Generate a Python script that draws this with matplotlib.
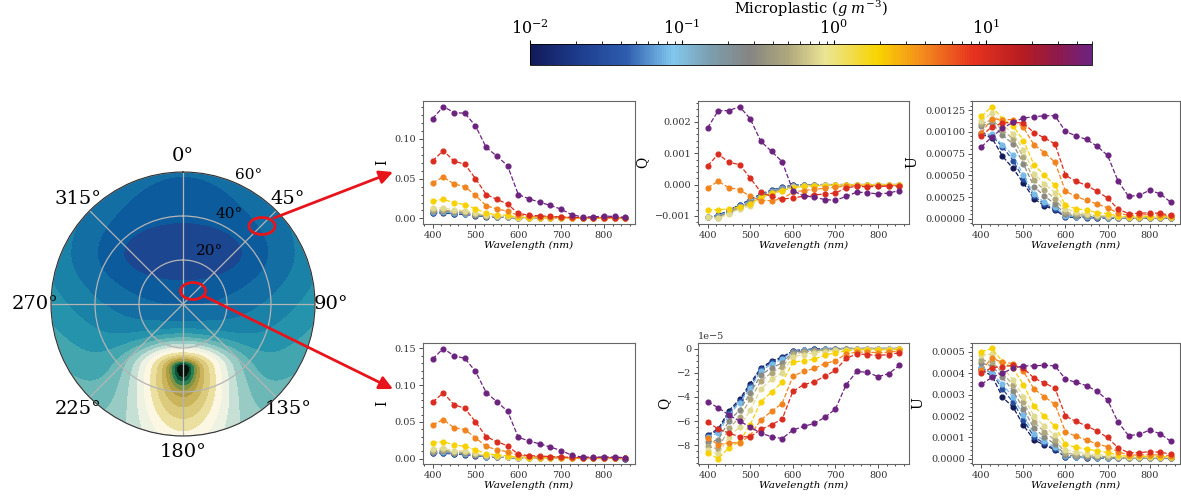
import numpy as np
import matplotlib
matplotlib.use('Agg')
import matplotlib.pyplot as plt
from matplotlib.colors import LinearSegmentedColormap, LogNorm
from matplotlib.cm import ScalarMappable
from matplotlib.patches import Ellipse

plt.rcParams['font.family'] = ['DejaVu Serif']
plt.rcParams['mathtext.fontset'] = 'dejavuserif'

# ---- data -------------------------------------------------------------
wavelength = list(range(400, 851, 25))
# microplastic concentration of each curve (g m-3), low -> high
concentration = [0.01, 0.03, 0.08, 0.3, 0.5, 0.8, 2, 4, 10, 50]

# I, upper viewing point (x1e-3)
I_TOP = [
    [6.6, 7.0, 5.7, 5.2, 3.7, 2.3, 1.7, 1.4, 0.6, 0.4, 0.4, 0.3, 0.3, 0.2, 0.2, 0.2, 0.2, 0.2, 0.1],
    [7.2, 7.6, 6.2, 5.6, 4.0, 2.5, 1.8, 1.5, 0.6, 0.5, 0.4, 0.3, 0.3, 0.2, 0.2, 0.2, 0.2, 0.2, 0.1],
    [7.8, 8.3, 6.8, 6.2, 4.4, 2.7, 2.0, 1.6, 0.7, 0.5, 0.4, 0.4, 0.3, 0.2, 0.2, 0.2, 0.2, 0.2, 0.2],
    [8.8, 9.4, 7.7, 7.0, 4.9, 3.1, 2.3, 1.9, 0.8, 0.6, 0.5, 0.4, 0.4, 0.3, 0.2, 0.2, 0.2, 0.2, 0.2],
    [10.0, 10.8, 8.8, 8.0, 5.6, 3.5, 2.6, 2.1, 0.9, 0.7, 0.6, 0.5, 0.4, 0.3, 0.3, 0.3, 0.3, 0.3, 0.2],
    [12.5, 13.5, 10.6, 9.8, 6.8, 4.1, 3.0, 2.5, 1.0, 0.8, 0.7, 0.6, 0.5, 0.4, 0.3, 0.3, 0.3, 0.3, 0.3],
    [21.7, 24.0, 19.6, 17.5, 12.0, 6.7, 4.6, 4.0, 1.5, 1.2, 1.0, 0.9, 0.8, 0.6, 0.5, 0.5, 0.5, 0.5, 0.4],
    [44.6, 52.0, 43.0, 40.0, 28.8, 16.0, 12.0, 9.0, 4.0, 2.8, 2.4, 2.0, 1.7, 1.1, 0.9, 0.9, 1.0, 0.9, 0.7],
    [72.0, 85.0, 71.7, 68.0, 50.0, 30.0, 24.0, 18.0, 6.3, 4.2, 3.3, 2.5, 2.0, 1.3, 1.1, 1.1, 1.2, 1.1, 0.9],
    [125.0, 140.0, 132.5, 131.7, 116.0, 89.0, 78.0, 66.0, 30.0, 24.6, 20.4, 16.3, 11.7, 4.6, 2.0, 2.0, 3.0, 2.5, 1.3],
]
# I, lower viewing point (x1e-3)
I_BOTTOM = [
    [7.2, 7.5, 6.0, 5.4, 3.9, 2.4, 1.8, 1.5, 0.6, 0.4, 0.4, 0.3, 0.3, 0.2, 0.2, 0.2, 0.2, 0.2, 0.1],
    [7.8, 8.1, 6.5, 5.9, 4.2, 2.6, 1.9, 1.6, 0.6, 0.5, 0.4, 0.3, 0.3, 0.2, 0.2, 0.2, 0.2, 0.2, 0.1],
    [8.4, 8.8, 7.1, 6.5, 4.6, 2.8, 2.1, 1.7, 0.7, 0.5, 0.4, 0.4, 0.3, 0.2, 0.2, 0.2, 0.2, 0.2, 0.2],
    [9.5, 10.0, 8.0, 7.3, 5.1, 3.2, 2.4, 2.0, 0.8, 0.6, 0.5, 0.4, 0.4, 0.3, 0.2, 0.2, 0.2, 0.2, 0.2],
    [11.0, 11.5, 9.2, 8.4, 5.8, 3.6, 2.7, 2.2, 0.9, 0.7, 0.6, 0.5, 0.4, 0.3, 0.3, 0.3, 0.3, 0.3, 0.2],
    [13.5, 14.0, 11.0, 10.0, 7.0, 4.3, 3.1, 2.6, 1.1, 0.9, 0.7, 0.6, 0.5, 0.4, 0.3, 0.3, 0.3, 0.3, 0.3],
    [21.8, 23.0, 18.7, 16.5, 12.0, 6.7, 4.8, 4.0, 1.6, 1.3, 1.1, 1.0, 0.9, 0.6, 0.5, 0.5, 0.5, 0.5, 0.4],
    [46.0, 53.0, 42.0, 39.6, 28.5, 16.5, 12.0, 9.3, 4.5, 3.0, 2.6, 2.2, 1.8, 1.2, 1.0, 1.0, 1.1, 1.0, 0.8],
    [77.0, 89.5, 73.4, 68.5, 50.0, 30.0, 23.0, 17.4, 5.8, 4.0, 3.5, 2.7, 2.2, 1.5, 1.3, 1.3, 1.4, 1.3, 1.0],
    [135.7, 150.0, 140.0, 136.6, 119.0, 90.0, 77.5, 64.5, 29.0, 24.0, 20.0, 15.6, 11.0, 4.5, 2.0, 2.0, 2.2, 2.0, 1.3],
]
# Q, upper viewing point (x1e-4)
Q_TOP = [
    [-10.4, -9.8, -8.2, -6.5, -4.8, -3.0, -1.8, -0.9, -0.2, -0.1, 0, 0, 0, 0, 0, 0, 0, 0, 0],
    [-10.4, -9.9, -8.3, -6.6, -5.0, -3.1, -1.9, -1.0, -0.2, -0.1, 0, 0, 0, 0, 0, 0, 0, 0, 0],
    [-10.4, -10.0, -8.5, -6.8, -5.2, -3.3, -2.0, -1.1, -0.3, -0.1, -0.1, 0, 0, 0, 0, 0, 0, 0, 0],
    [-10.5, -10.3, -8.7, -7.1, -5.7, -3.6, -2.3, -1.3, -0.4, -0.2, -0.1, -0.1, 0, 0, 0, 0, 0, 0, 0],
    [-10.5, -10.6, -9.0, -7.4, -6.2, -4.0, -2.6, -1.6, -0.6, -0.3, -0.2, -0.1, -0.1, 0, 0, 0, 0, 0, 0],
    [-10.5, -10.8, -9.3, -7.8, -6.8, -4.5, -3.0, -2.0, -0.9, -0.5, -0.3, -0.2, -0.1, -0.1, 0, 0, 0, 0, 0],
    [-8.0, -8.0, -7.8, -7.2, -6.2, -4.0, -2.8, -1.9, -1.0, -0.6, -0.4, -0.3, -0.2, -0.1, -0.1, -0.1, -0.1, -0.1, -0.1],
    [-1.0, 1.0, -1.0, -1.6, -3.8, -5.1, -5.1, -4.6, -2.4, -1.9, -1.5, -1.2, -0.8, -0.5, -0.3, -0.3, -0.3, -0.3, -0.3],
    [6.0, 9.7, 7.1, 6.4, 2.1, -2.4, -3.8, -4.6, -4.3, -3.7, -3.3, -3.0, -2.7, -1.0, -0.6, -0.7, -0.6, -0.5, -0.4],
    [18.1, 23.6, 23.6, 24.9, 21.0, 13.8, 10.6, 7.3, -1.9, -3.6, -4.0, -4.8, -5.0, -3.8, -2.4, -2.6, -3.0, -2.7, -1.9],
]
# Q, lower viewing point (x1e-5)
Q_BOTTOM = [
    [-7.15, -6.65, -5.15, -4.2, -2.9, -1.6, -1.05, -0.7, -0.2, -0.1, -0.05, 0, 0, 0, 0, 0, 0, 0, 0],
    [-7.2, -6.8, -5.3, -4.35, -3.1, -1.7, -1.15, -0.8, -0.2, -0.1, -0.05, 0, 0, 0, 0, 0, 0, 0, 0],
    [-7.3, -7.0, -5.5, -4.5, -3.3, -1.85, -1.3, -0.9, -0.25, -0.15, -0.1, -0.05, 0, 0, 0, 0, 0, 0, 0],
    [-7.75, -7.55, -6.0, -5.1, -3.7, -2.2, -1.6, -1.2, -0.3, -0.2, -0.1, -0.1, -0.05, 0, 0, 0, 0, 0, 0],
    [-8.1, -8.3, -6.6, -5.7, -4.2, -2.7, -2.0, -1.5, -0.45, -0.3, -0.2, -0.15, -0.1, -0.05, 0, 0, 0, 0, 0],
    [-8.4, -8.75, -7.3, -6.5, -5.1, -3.35, -2.55, -2.0, -0.7, -0.5, -0.35, -0.25, -0.15, -0.1, -0.05, -0.05, -0.05, -0.05, 0],
    [-8.65, -9.1, -8.2, -7.7, -6.3, -4.4, -3.6, -2.8, -1.15, -1.0, -0.9, -0.55, -0.35, -0.2, -0.1, -0.1, -0.1, -0.1, -0.05],
    [-7.4, -7.95, -7.8, -7.8, -7.2, -5.9, -5.2, -4.55, -2.3, -1.9, -1.65, -1.25, -1.0, -0.45, -0.3, -0.3, -0.35, -0.3, -0.2],
    [-6.1, -6.65, -7.0, -7.3, -7.3, -6.7, -6.3, -5.85, -3.55, -3.0, -2.75, -2.3, -1.8, -0.82, -0.45, -0.5, -0.58, -0.5, -0.35],
    [-4.4, -4.9, -5.5, -6.0, -6.5, -7.0, -7.3, -7.45, -6.75, -6.45, -6.2, -5.7, -5.0, -3.0, -1.9, -1.97, -2.33, -2.08, -1.4],
]
# U, upper viewing point (x1e-5)
U_TOP = [
    [97, 93, 72, 58, 41, 23, 15, 10, 2.0, 1.5, 1.2, 1.0, 0.8, 0.6, 0.5, 0.5, 0.5, 0.5, 0.4],
    [99, 95, 83, 67, 46, 26, 17, 11, 3.0, 2.0, 1.6, 1.3, 1.0, 0.8, 0.6, 0.6, 0.6, 0.6, 0.5],
    [98, 97, 85, 73, 50, 28, 19, 13, 3.5, 2.5, 2.0, 1.6, 1.3, 1.0, 0.8, 0.8, 0.8, 0.8, 0.6],
    [107, 110, 96, 86, 63, 37, 26, 17, 5.0, 3.5, 2.8, 2.2, 1.8, 1.2, 1.0, 1.0, 1.0, 1.0, 0.8],
    [109, 114, 102, 92, 71, 44, 33, 23, 7.7, 5.0, 4.0, 3.0, 2.5, 1.5, 1.2, 1.2, 1.2, 1.2, 1.0],
    [112, 122, 108, 98, 79, 52, 40, 30, 11.5, 7.7, 5.5, 4.0, 3.5, 2.0, 1.8, 1.8, 1.8, 1.6, 1.5],
    [118, 129, 115, 107, 90, 62, 50, 38.5, 15.4, 11.5, 10, 7, 6, 3, 2.5, 2.5, 2.5, 2.2, 2.0],
    [99, 115, 114, 114, 105, 85, 76, 65, 31.5, 25.8, 21, 17, 12.7, 6.5, 4, 4, 5, 4, 3],
    [95, 106, 110, 111, 110, 99, 93, 86, 50, 43, 38.5, 31.5, 24, 11, 6, 6.2, 7, 6.2, 4],
    [82.7, 94.2, 104, 111, 115.8, 117.3, 118.5, 118.5, 100.4, 95.4, 91.2, 83.5, 73, 43.5, 25.8, 26.9, 32.7, 28.8, 19.2],
]
# U, lower viewing point (x1e-5)
U_BOTTOM = [
    [41.4, 38.8, 28.8, 24.2, 15.7, 8.8, 6.5, 4.2, 1.0, 0.8, 0.6, 0.5, 0.4, 0.3, 0.3, 0.3, 0.3, 0.3, 0.2],
    [42.3, 40.0, 32.6, 26.5, 18.3, 10.3, 7.2, 4.6, 1.0, 0.8, 0.6, 0.5, 0.4, 0.3, 0.3, 0.3, 0.3, 0.3, 0.2],
    [43.0, 40.0, 34.9, 28.8, 20.3, 11.8, 8.3, 5.4, 1.2, 0.9, 0.7, 0.6, 0.5, 0.4, 0.3, 0.3, 0.3, 0.3, 0.3],
    [44.6, 43.4, 38.0, 31.8, 23.4, 14.2, 10.3, 6.8, 1.8, 1.3, 1.0, 0.8, 0.7, 0.5, 0.4, 0.4, 0.4, 0.4, 0.3],
    [46.0, 45.4, 40.0, 34.6, 26.5, 17.2, 12.6, 8.8, 2.8, 2.0, 1.6, 1.3, 1.0, 0.7, 0.6, 0.6, 0.6, 0.6, 0.5],
    [48.5, 48.8, 43.0, 36.8, 29.0, 20.0, 15.2, 11.0, 4.2, 3.2, 2.5, 2.0, 1.6, 1.0, 0.8, 0.8, 0.8, 0.8, 0.7],
    [50.0, 51.5, 45.4, 42.3, 34.6, 24.5, 20.0, 15.2, 6.8, 5.4, 4.6, 3.8, 3.0, 1.8, 1.2, 1.2, 1.2, 1.1, 1.0],
    [41.4, 47.0, 45.0, 44.5, 40.8, 32.6, 29.0, 25.4, 12.6, 10.6, 8.8, 7.0, 5.7, 3.4, 1.8, 1.8, 2.0, 1.8, 1.5],
    [40.0, 42.6, 43.0, 43.7, 42.3, 37.7, 35.4, 33.0, 20.0, 17.5, 15.4, 13.0, 10.0, 5.2, 2.9, 2.9, 3.4, 3.1, 2.3],
    [34.9, 38.0, 40.0, 42.3, 43.4, 43.4, 43.7, 43.4, 37.2, 35.7, 34.2, 31.5, 27.5, 17.2, 10.9, 11.4, 13.4, 11.8, 8.3],
]

# polar reflectance map: dark minimum in the upper half, sun glint at 180 deg
DARK_CENTER_ZENITH = 23.0
DARK_HALF_WIDTH = 27.0
DARK_HALF_HEIGHT = (12.5, 14.0)   # below / above the minimum
GLINT_ZENITH = 29.0
BAND_COLORS = ['#1d4690', '#0c5b9d', '#136ea3', '#1a81a7', '#2493ab', '#43a5ae',
               '#6cb8b6', '#98cbc3', '#c6e0d6', '#eef2e2', '#fbf7e2', '#ece0a0',
               '#dccb7c', '#cab45c', '#b29e42', '#7f9444', '#2a7e52', '#0e5238', '#04140d']

cmap = LinearSegmentedColormap.from_list('microplastic', [
    (0.00, '#121a58'), (0.08, '#1c3a8a'), (0.17, '#2e5cae'), (0.253, '#82c8ef'),
    (0.32, '#7c9eae'), (0.39, '#858583'), (0.46, '#b0a87c'), (0.525, '#ebe596'),
    (0.62, '#f8d400'), (0.70, '#f38a1e'), (0.79, '#e6321f'), (0.88, '#b51c22'),
    (0.94, '#8e1a4a'), (1.00, '#6c2380')])
norm = LogNorm(vmin=0.01, vmax=50)


def sky_field(theta, r):
    x = r * np.sin(theta)
    y = r * np.cos(theta)
    dy = y - DARK_CENTER_ZENITH
    sy = np.where(dy < 0, DARK_HALF_HEIGHT[0], DARK_HALF_HEIGHT[1])
    e = np.sqrt((x / DARK_HALF_WIDTH) ** 2 + (dy / sy) ** 2)
    rho = np.hypot(x, dy)
    beyond = np.where(e > 1, rho * (1 - 1 / np.maximum(e, 1e-9)), 0)
    up = np.clip(dy / np.maximum(rho, 1e-9), 0, 1)
    bg = np.where(e <= 1, e, 1 + beyond / (12 + 9 * up ** 2))
    gy = y + GLINT_ZENITH
    gd = np.hypot(x, np.where(gy > 0, gy * 1.8, gy * 0.7))
    glint = 9.9 * np.exp(-(gd / 22) ** 2) + 4.7 * np.exp(-(gd / 5.5) ** 2)
    return bg + glint


def draw_panel(ax, table, scale, ylabel):
    for conc, values in zip(concentration, table):
        ax.plot(wavelength, np.array(values) * scale, '--o', color=cmap(norm(conc)),
                lw=0.9, ms=3.4)
    ax.set_ylabel(ylabel, fontsize=10)
    ax.set_xlabel('Wavelength (nm)', fontstyle='italic', fontsize=7.5, labelpad=1)
    ax.set_xticks([400, 500, 600, 700, 800])
    ax.minorticks_on()
    ax.tick_params(labelsize=7, colors='#333333', length=3, width=0.6, pad=2)
    ax.tick_params(which='minor', length=1.5, width=0.5)
    ax.yaxis.get_offset_text().set_fontsize(7)
    for s in ax.spines.values():
        s.set_color('#666666')
        s.set_linewidth(0.8)


W, H = 1181, 496
fig = plt.figure(figsize=(W / 100, H / 100), dpi=100)

# ---- polar map --------------------------------------------------------
pax = fig.add_axes([51 / W, 1 - 436 / H, 264 / W, 264 / H], projection='polar')
pax.set_theta_zero_location('N')
pax.set_theta_direction(-1)
th = np.linspace(0, 2 * np.pi, 361)
rr = np.linspace(0, 60, 241)
TH, RR = np.meshgrid(th, rr)
levels = [-1] + list(range(1, 19)) + [100]
pax.contourf(TH, RR, sky_field(TH, RR), levels=levels, colors=BAND_COLORS)
pax.set_rlim(0, 60)
pax.set_rticks([20, 40, 60])
pax.set_yticklabels([])
pax.set_xticks(np.radians(np.arange(0, 360, 45)))
pax.tick_params(axis='x', labelsize=14, pad=1)
pax.grid(color='#b4b4b4', lw=0.9)
pax.spines['polar'].set_color('#333333')
for val, rad in [(20, 27), (40, 46), (60, 66)]:
    pax.text(np.radians(27), rad, f'{val}°', fontsize=11, ha='center', va='center')

# ---- spectra ----------------------------------------------------------
col_left = [423, 698, 972]
col_width = [212, 211, 208]
rows = [(101, 224), (343, 464)]
panels = [
    [(I_TOP, 1e-3, 'I'), (Q_TOP, 1e-4, 'Q'), (U_TOP, 1e-5, 'U')],
    [(I_BOTTOM, 1e-3, 'I'), (Q_BOTTOM, 1e-5, 'Q'), (U_BOTTOM, 1e-5, 'U')],
]
for (top, bottom), row in zip(rows, panels):
    for left, width, (table, scale, lab) in zip(col_left, col_width, row):
        ax = fig.add_axes([left / W, 1 - bottom / H, width / W, (bottom - top) / H])
        draw_panel(ax, table, scale, lab)

# ---- colorbar ---------------------------------------------------------
cax = fig.add_axes([530 / W, 1 - 65 / H, 562 / W, 21 / H])
cb = fig.colorbar(ScalarMappable(norm=norm, cmap=cmap), cax=cax, orientation='horizontal')
cax.xaxis.set_ticks_position('top')
cax.xaxis.set_label_position('top')
cax.tick_params(labelsize=11.5, length=3, pad=1.5)
cax.tick_params(which='minor', length=2)
cb.set_label('Microplastic ($g\\ m^{-3}$)', fontsize=10.5, labelpad=3)
cb.outline.set_linewidth(0.6)

# ---- red markers and arrows ------------------------------------------
ov = fig.add_axes([0, 0, 1, 1])
ov.set_xlim(0, W)
ov.set_ylim(H, 0)
ov.axis('off')
red = '#e8141c'
ov.add_patch(Ellipse((262, 226), 26, 17, fill=False, ec=red, lw=2))
ov.add_patch(Ellipse((193, 291), 25, 17, fill=False, ec=red, lw=2))
arrow = dict(arrowstyle='-|>', color=red, lw=2, mutation_scale=20, shrinkA=0, shrinkB=0)
ov.annotate('', xy=(393, 172), xytext=(274, 218), arrowprops=arrow)
ov.annotate('', xy=(393, 389), xytext=(204, 296), arrowprops=arrow)

fig.savefig('out.png', dpi=100, facecolor='white')
